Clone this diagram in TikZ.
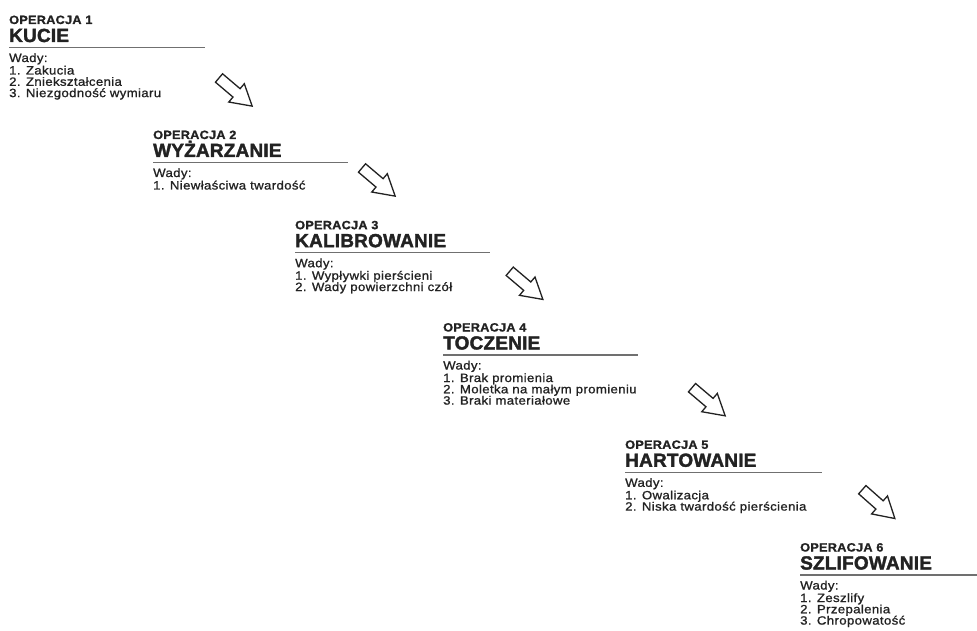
\documentclass[tikz,border=0pt]{standalone}
\usepackage{fontspec}
\setmainfont{Liberation Sans}
\newfontfamily\opfont[FakeStretch=1.06,LetterSpace=2,FakeBold=1.2]{Liberation Sans}
\newfontfamily\ttlfont[FakeStretch=1.0,LetterSpace=1,FakeBold=1.8]{Liberation Sans}
\newfontfamily\bodyfont[FakeStretch=1.1,LetterSpace=3,FakeBold=1.0]{Liberation Sans}
\definecolor{ink}{HTML}{222222}
\definecolor{rulegray}{HTML}{707070}
\tikzset{
  op/.style={anchor=base west, inner sep=0pt, text=ink, font=\opfont\bfseries\fontsize{12}{12}\selectfont},
  ttl/.style={anchor=base west, inner sep=0pt, text=ink, font=\ttlfont\bfseries\fontsize{19}{20}\selectfont},
  body/.style={anchor=base west, inner sep=0pt, text=ink, font=\bodyfont\fontsize{12}{11}\selectfont},
  rulestyle/.style={draw=rulegray, line width=1.3pt},
  arrowline/.style={draw=ink, line width=1.3pt, line join=miter, fill=white},
  flowarrow/.pic={
    \path[arrowline] (0,-5.5) -- (23,-5.5) -- (23,-12) -- (43.5,0) -- (23,12) -- (23,5.5) -- (0,5.5) -- cycle;
  }
}
\newcommand\opblock[7]{%
  \node[op] (op#1) at (#2,#3-23.5) {OPERACJA #4};
  \node[ttl] (tt#1) at (#2,#3-5.5) {#5};
  \draw[rulestyle] (#2,#3) -- (#7,#3);
  \node[body] (wd#1) at (#2,#3+14.5) {Wady:};
  \foreach \t [count=\k] in {#6} {
    \node[body] (it#1-\k) at (#2,#3+27+11.3*\k-11.3) {\k. \t};
  }
}
\begin{document}
\begin{tikzpicture}[x=1pt,y=-1pt]
\useasboundingbox[fill=white] (0,0) rectangle (977,631);
\opblock{1}{9}{47.5}{1}{KUCIE}{Zakucia,Zniekształcenia,Niezgodność wymiaru}{205}
\opblock{2}{153}{162.5}{2}{WYŻARZANIE}{Niewłaściwa twardość}{348}
\opblock{3}{295}{252.7}{3}{KALIBROWANIE}{Wypływki pierścieni,Wady powierzchni czół}{490}
\opblock{4}{443}{355}{4}{TOCZENIE}{Brak promienia,Moletka na małym promieniu,Braki materiałowe}{638}
\opblock{5}{625}{472.3}{5}{HARTOWANIE}{Owalizacja,Niska twardość pierścienia}{822}
\opblock{6}{800}{575}{6}{SZLIFOWANIE}{Zeszlify,Przepalenia,Chropowatość}{977}
\pic[rotate=-40.3] (ar1) at (219,78) {flowarrow};
\pic[rotate=-40.3] (ar2) at (362,168) {flowarrow};
\pic[rotate=-40.3] (ar3) at (509.7,271.3) {flowarrow};
\pic[rotate=-40.3] (ar4) at (692,387.7) {flowarrow};
\pic[rotate=-41.5] (ar5) at (862.3,489.7) {flowarrow};
\end{tikzpicture}
\end{document}
